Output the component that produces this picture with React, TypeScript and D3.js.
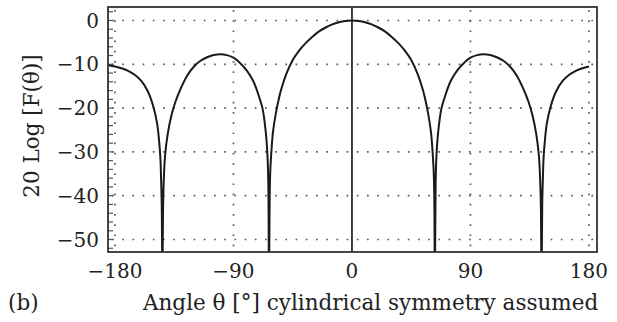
import React from "react";
import * as d3 from "d3";

// Sampled pattern: angle (deg) and level (dB). Null samples sit below the axis floor.
const thetaDeg = [
  -185, -180, -175, -170, -165, -160, -155, -151, -148, -146.5, -145.5, -145, -144.5, -144,
  -143.5, -143, -142, -140, -137, -134, -130, -125, -120, -115, -110, -105, -100, -95, -90,
  -85, -80, -75, -71, -68, -66.5, -65, -64, -63.5, -63, -62.5, -62, -61, -60, -58, -56, -54,
  -50, -45, -40, -35, -30, -25, -20, -15, -10, -5, 0, 5, 10, 15, 20, 25, 30, 35, 40, 45, 50,
  54, 56, 58, 60, 61, 62, 62.5, 63, 63.5, 64, 65, 66.5, 68, 71, 75, 80, 85, 90, 95, 100, 105,
  110, 115, 120, 125, 130, 134, 137, 140, 142, 143, 143.5, 144, 144.5, 145, 145.5, 146.5, 148,
  151, 155, 160, 165, 170, 175, 180,
];
const levelDb = [
  -10.2, -10.5, -10.9, -11.5, -12.4, -13.8, -16.2, -19.5, -23.5, -27.5, -31.5, -36, -42, -60,
  -43, -37, -31, -26, -21.5, -18.5, -15.5, -12.5, -10.5, -9.2, -8.4, -7.9, -7.7, -7.9, -8.5,
  -9.7, -11.4, -13.8, -17, -20, -22.8, -27, -32, -38, -60, -40, -34, -29, -25.5, -21.5, -18.5, -16,
  -12.3, -9.0, -6.8, -5.1, -3.7, -2.5, -1.6, -0.9, -0.4, -0.1, 0, -0.1, -0.4, -0.9, -1.6, -2.5, -3.7, -5.1, -6.8, -9.0, -12.3,
  -16, -18.5, -21.5, -25.5, -29, -34, -40, -60, -38, -32, -27, -22.8, -20, -17, -13.8, -11.4, -9.7, -8.5, -7.9, -7.7, -7.9,
  -8.4, -9.2, -10.5, -12.5, -15.5, -18.5, -21.5, -26, -31, -37, -43, -60, -42, -36, -31.5, -27.5, -23.5,
  -19.5, -16.2, -13.8, -12.4, -11.5, -10.9, -10.5,
];

const xTicks = [-180, -90, 0, 90, 180];
const xTickLabels = ["\u2212180", "\u221290", "0", "90", "180"];
const yTicks = [0, -10, -20, -30, -40, -50];
const yTickLabels = ["0", "\u221210", "\u221220", "\u221230", "\u221240", "\u221250"];
const yMinorTicks = d3.range(2, -53, -2);

const W = 617;
const H = 322;
const plot = { left: 108, right: 597, top: 7, bottom: 252 };

const FONT = "'DejaVu Serif', 'Liberation Serif', serif";
const INK = "#222";

export default function App() {
  const x = d3.scaleLinear().domain([-185.3, 186.1]).range([plot.left, plot.right]);
  const y = d3.scaleLinear().domain([-52.85, 3.08]).range([plot.bottom, plot.top]);

  const points: [number, number][] = thetaDeg.map((t, i) => [t, levelDb[i]]);
  const line = d3
    .line<[number, number]>()
    .x((d) => x(d[0]))
    .y((d) => y(d[1]))
    .curve(d3.curveCatmullRom.alpha(0.5));

  const gridDots = { stroke: "#5a5a5a", strokeWidth: 1.7, strokeDasharray: "1.7 8.5" };

  return (
    <svg width={W} height={H} style={{ display: "block", position: "absolute", left: 0, top: 0 }}>
      <rect x={0} y={0} width={W} height={H} fill="#fff" />
      <defs>
        <clipPath id="plot-area">
          <rect x={plot.left} y={plot.top} width={plot.right - plot.left} height={plot.bottom - plot.top} />
        </clipPath>
      </defs>

      {/* dotted horizontal grid */}
      {yTicks.map((v) => (
        <line key={"gy" + v} x1={plot.left + 4} x2={plot.right} y1={y(v)} y2={y(v)} {...gridDots} />
      ))}
      {/* dotted vertical grid */}
      {xTicks
        .filter((v) => v !== 0)
        .map((v) => (
          <line key={"gx" + v} x1={x(v)} x2={x(v)} y1={plot.top + 3} y2={plot.bottom} {...gridDots} />
        ))}

      {/* minor ticks on the level axis */}
      {yMinorTicks.map((v) => (
        <line key={"mt" + v} x1={plot.left} x2={plot.left + 5} y1={y(v)} y2={y(v)} stroke="#555" strokeWidth={1.2} />
      ))}

      {/* boresight line */}
      <line x1={x(0)} x2={x(0)} y1={plot.top} y2={plot.bottom} stroke="#111" strokeWidth={1.6} />

      {/* pattern */}
      <g clipPath="url(#plot-area)">
        <path d={line(points) ?? ""} fill="none" stroke="#1a1a1a" strokeWidth={2} strokeLinejoin="round" />
      </g>

      {/* frame */}
      <rect
        x={plot.left}
        y={plot.top}
        width={plot.right - plot.left}
        height={plot.bottom - plot.top}
        fill="none"
        stroke="#333"
        strokeWidth={1.8}
      />

      {/* level tick labels */}
      {yTicks.map((v, i) => (
        <text
          key={"ly" + v}
          x={99}
          y={y(v)}
          dy="0.36em"
          textAnchor="end"
          fontFamily={FONT}
          fontSize={20}
          fill={INK}
        >
          {yTickLabels[i]}
        </text>
      ))}

      {/* angle tick labels */}
      {xTicks.map((v, i) => (
        <text
          key={"lx" + v}
          x={x(v)}
          y={278}
          textAnchor="middle"
          fontFamily={FONT}
          fontSize={20}
          fill={INK}
        >
          {xTickLabels[i]}
        </text>
      ))}

      {/* axis titles */}
      <text
        transform={`translate(39,126) rotate(-90)`}
        textAnchor="middle"
        fontFamily={FONT}
        fontSize={21.5}
        fill={INK}
      >
        20 Log [F(θ)]
      </text>
      <text x={143} y={310} fontFamily={FONT} fontSize={21.5} fill={INK}>
        Angle θ [°] cylindrical symmetry assumed
      </text>
      <text x={8} y={310} fontFamily={FONT} fontSize={21.5} fill={INK}>
        (b)
      </text>
    </svg>
  );
}
